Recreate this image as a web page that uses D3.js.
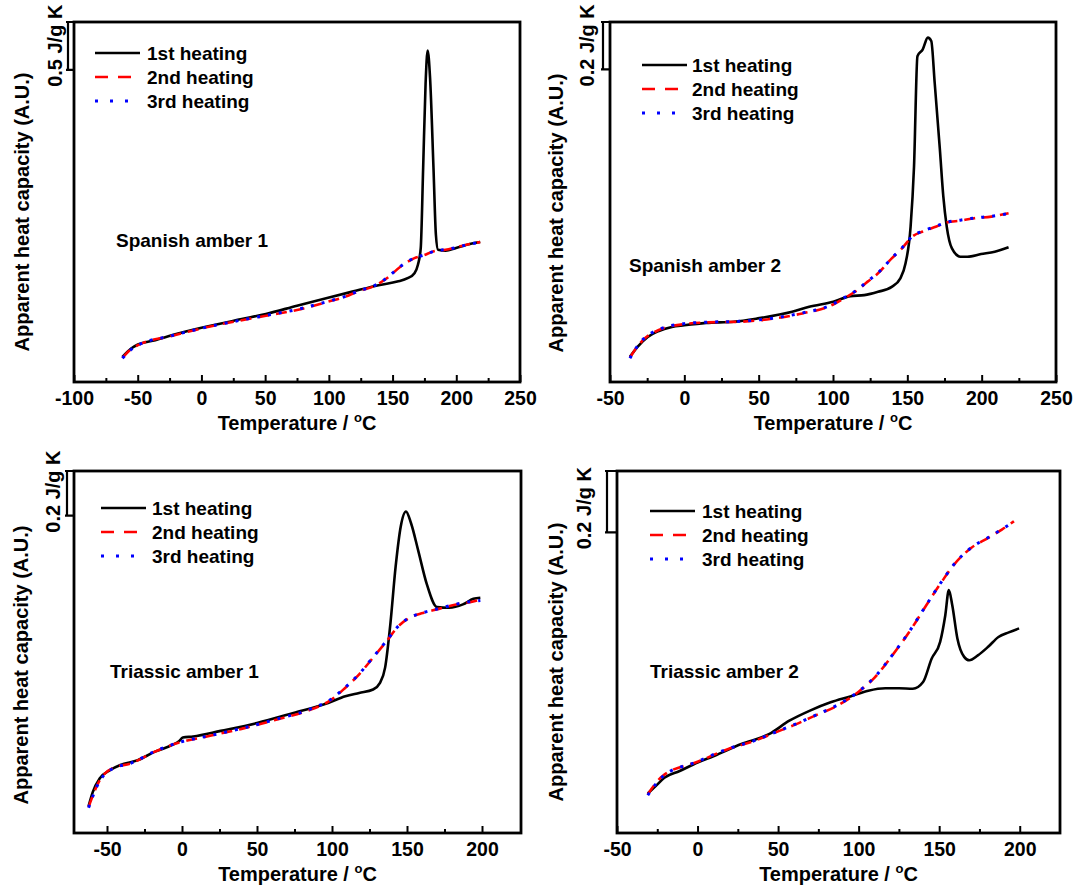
<!DOCTYPE html>
<html>
<head>
<meta charset="utf-8">
<script src="https://cdn.jsdelivr.net/npm/d3@7"></script>
<style>
  body { margin: 0; background: #fff; }
  text { font-family: "Liberation Sans", Arial, sans-serif; font-weight: bold; fill: #000; }
</style>
</head>
<body>
<div id="chart"></div>
<script>
// ---- data (temperature °C, apparent heat capacity in J/g K, offset to frame bottom) ----
const panelNames = ["Spanish amber 1", "Spanish amber 2", "Triassic amber 1", "Triassic amber 2"];
const seriesNames = ["1st heating", "2nd heating", "3rd heating"];
const scaleBarValues = [0.5, 0.2, 0.2, 0.2];
const scaleBarLabels = ["0.5 J/g K", "0.2 J/g K", "0.2 J/g K", "0.2 J/g K"];
const xDomains = [[-100, 250], [-50, 250], [-72, 226], [-50, 225]];
const yDomains = [[0, 3.76], [0, 1.517], [0, 1.62], [0, 1.18]];
const majorTicks = [
  [-100, -50, 0, 50, 100, 150, 200, 250],
  [-50, 0, 50, 100, 150, 200, 250],
  [-50, 0, 50, 100, 150, 200],
  [-50, 0, 50, 100, 150, 200]
];
const minorTicks = [
  [-75, -25, 25, 75, 125, 175, 225],
  [-25, 25, 75, 125, 175, 225],
  [-25, 25, 75, 125, 175],
  [-25, 25, 75, 125, 175]
];

const sa1Heat1 = [[-62,0.262],[-55.2,0.350],[-49.8,0.392],[-36.2,0.437],[-22.7,0.490],[0,0.566],[31.6,0.657],[50.6,0.710],[75,0.797],[99.4,0.881],[118.4,0.944],[140,1.014],[153.7,1.049],[161.8,1.084],[167.2,1.136],[169.9,1.224],[172.1,1.399],[174,2.238],[175.9,3.112],[177.5,3.462],[179.4,3.182],[182.1,2.238],[184,1.538],[185.7,1.381],[191.6,1.371],[199.8,1.399],[210.6,1.441],[218.8,1.462]];
const sa1Heat2 = [[-62,0.252],[-56,0.335],[-49.8,0.385],[-22.7,0.483],[0,0.559],[50.6,0.692],[75,0.752],[99.4,0.839],[113,0.892],[123.8,0.951],[134.7,0.997],[145.5,1.084],[156.4,1.206],[167.2,1.294],[174,1.322],[183.8,1.371],[191.6,1.381],[199.8,1.406],[210.6,1.441],[218.8,1.462]];
const sa1Heat3 = [[-62,0.248],[-56,0.330],[-49.8,0.383],[-22.7,0.485],[0,0.561],[50.6,0.695],[75,0.758],[99.4,0.842],[113,0.895],[123.8,0.953],[134.7,1.000],[145.5,1.088],[156.4,1.210],[167.2,1.296],[174,1.324],[183.8,1.370],[191.6,1.383],[199.8,1.404],[210.6,1.440],[218.8,1.460]];

const sa2Heat1 = [[-36.6,0.106],[-31.5,0.148],[-24.6,0.190],[-17.6,0.214],[-8.4,0.232],[0,0.239],[14.7,0.249],[33.2,0.254],[49.4,0.268],[72.5,0.296],[84,0.317],[100.2,0.338],[111.8,0.362],[121,0.366],[130.3,0.380],[139.5,0.401],[145.3,0.437],[148.8,0.500],[152.2,0.655],[154.5,0.908],[156.8,1.373],[160.3,1.401],[163.8,1.451],[166.1,1.437],[168.4,1.261],[171.9,0.979],[174.2,0.782],[176.5,0.655],[180,0.563],[185.7,0.528],[190.4,0.528],[199.6,0.539],[208.8,0.549],[218.1,0.568]];
const sa2Heat2 = [[-36.6,0.103],[-31.5,0.150],[-26.9,0.182],[-17.6,0.218],[0,0.244],[14.7,0.251],[37.8,0.254],[60.9,0.268],[79.4,0.289],[97.9,0.320],[107.2,0.352],[116.4,0.387],[123.3,0.423],[130.3,0.458],[139.5,0.521],[146.4,0.563],[153.4,0.613],[160.3,0.634],[169.6,0.655],[176.5,0.672],[185.7,0.680],[195,0.690],[206.5,0.697],[218.1,0.711]];
const sa2Heat3 = [[-36.6,0.100],[-31.5,0.152],[-26.9,0.185],[-17.6,0.220],[0,0.246],[14.7,0.252],[37.8,0.256],[60.9,0.270],[79.4,0.291],[97.9,0.322],[107.2,0.354],[116.4,0.389],[123.3,0.425],[130.3,0.460],[139.5,0.522],[146.4,0.565],[153.4,0.614],[160.3,0.636],[169.6,0.657],[176.5,0.673],[185.7,0.682],[195,0.691],[206.5,0.698],[218.1,0.710]];

const ta1Heat1 = [[-62.3,0.120],[-59.5,0.183],[-54.9,0.244],[-48,0.281],[-41.1,0.304],[-29.5,0.326],[-18,0.364],[-6.5,0.394],[-1.8,0.412],[0.5,0.427],[7.4,0.432],[25.8,0.457],[50,0.492],[74.3,0.537],[97.4,0.582],[108.9,0.612],[118.1,0.627],[127.4,0.642],[132,0.672],[135.4,0.740],[138.9,0.935],[142.4,1.191],[145.8,1.371],[149.3,1.439],[152.7,1.386],[157.4,1.266],[163.1,1.116],[170,1.011],[178.1,1.008],[187.3,1.023],[194.3,1.048],[198.9,1.053]];
const ta1Heat2 = [[-62.3,0.116],[-54.9,0.236],[-45.7,0.292],[-34.2,0.311],[-18,0.364],[-1.8,0.405],[16.6,0.432],[39.7,0.466],[62.8,0.507],[85.8,0.552],[99.7,0.597],[108.9,0.650],[118.1,0.710],[127.4,0.785],[136.6,0.860],[143.5,0.920],[150.4,0.958],[159.7,0.983],[171.2,1.003],[182.7,1.023],[192,1.033],[198.9,1.044]];
const ta1Heat3 = [[-62.3,0.113],[-54.9,0.232],[-45.7,0.290],[-34.2,0.312],[-18,0.366],[-1.8,0.406],[16.6,0.433],[39.7,0.468],[62.8,0.509],[85.8,0.555],[99.7,0.600],[108.9,0.652],[118.1,0.712],[127.4,0.787],[136.6,0.862],[143.5,0.921],[150.4,0.959],[159.7,0.984],[171.2,1.004],[182.7,1.024],[192,1.035],[198.9,1.040]];

const ta2Heat1 = [[-30.9,0.129],[-26,0.153],[-20.6,0.180],[-11.1,0.202],[0,0.230],[10.2,0.251],[27.2,0.290],[44.3,0.322],[57,0.366],[69.8,0.399],[82.6,0.426],[95.3,0.446],[106,0.464],[116.6,0.472],[125.1,0.472],[133.6,0.470],[140,0.492],[145.3,0.568],[150.6,0.623],[153.8,0.710],[156,0.792],[158.1,0.743],[161.3,0.634],[165.5,0.574],[168.7,0.563],[174,0.579],[180.4,0.607],[186.8,0.639],[193.2,0.654],[199.6,0.667]];
const ta2Heat2 = [[-30.9,0.126],[-21.7,0.186],[0,0.232],[18.7,0.273],[35.7,0.301],[48.5,0.328],[61.3,0.355],[74,0.385],[86.8,0.415],[99.6,0.459],[110.2,0.508],[120.9,0.579],[131.5,0.656],[142.1,0.743],[151.7,0.820],[159.1,0.874],[169.8,0.929],[180.4,0.962],[188.9,0.989],[196.4,1.016]];
const ta2Heat3 = [[-30.9,0.123],[-21.7,0.184],[0,0.233],[18.7,0.274],[35.7,0.302],[48.5,0.329],[61.3,0.356],[74,0.386],[86.8,0.417],[99.6,0.460],[110.2,0.510],[120.9,0.580],[131.5,0.657],[142.1,0.744],[151.7,0.821],[159.1,0.875],[169.8,0.930],[180.4,0.963],[188.9,0.990],[196.4,1.015]];

const panelSeries = [
  [sa1Heat1, sa1Heat2, sa1Heat3],
  [sa2Heat1, sa2Heat2, sa2Heat3],
  [ta1Heat1, ta1Heat2, ta1Heat3],
  [ta2Heat1, ta2Heat2, ta2Heat3]
];

// ---- layout ----
const W = 1073, H = 888;
const frames = [
  { x0: 74, x1: 520, y0: 22, y1: 382 },
  { x0: 610, x1: 1056, y0: 22, y1: 382 },
  { x0: 74, x1: 521, y0: 471, y1: 833 },
  { x0: 617, x1: 1060, y0: 471, y1: 833 }
];
// legend: line start, text x, first row y (absolute)
const legends = [
  { x: 95, tx: 147, y: 53 },
  { x: 642, tx: 692, y: 65 },
  { x: 101, tx: 152, y: 508 },
  { x: 650, tx: 702, y: 511 }
];
const labelPos = [
  { x: 116, y: 240 },
  { x: 629, y: 265 },
  { x: 110, y: 671 },
  { x: 650, y: 671 }
];
const yTitlePos = [
  { x: 22, y: 212 },
  { x: 556, y: 213 },
  { x: 21, y: 665 },
  { x: 556, y: 662 }
];
const barX = [68, 603, 67, 607];
const scaleLabelX = [55, 587, 53, 584];

const seriesStyle = [
  { color: "#000000", width: 2.6, dash: null, legendDash: null },
  { color: "#ff0000", width: 2.6, dash: "11,7", legendDash: "13,10" },
  { color: "#0000ff", width: 3, dash: "3,8", legendDash: "3,12" }
];

const svg = d3.select("#chart").append("svg").attr("width", W).attr("height", H);

function drawPanel(i) {
  const f = frames[i];
  const g = svg.append("g");

  const x = d3.scaleLinear().domain(xDomains[i]).range([f.x0, f.x1]);
  const y = d3.scaleLinear().domain(yDomains[i]).range([f.y1, f.y0]);

  // axes with inward ticks
  const axisG = g.append("g").attr("transform", `translate(0,${f.y1})`);
  axisG.call(d3.axisBottom(x).tickValues(majorTicks[i]).tickSizeInner(-7).tickSizeOuter(0).tickPadding(9).tickFormat((d) => String(d)));
  axisG.select(".domain").remove();
  axisG.selectAll("line").attr("stroke", "#000").attr("stroke-width", 2);
  axisG.selectAll("text")
    .style("font-family", '"Liberation Sans", Arial, sans-serif')
    .style("font-weight", "bold")
    .style("font-size", "19.5px")
    .attr("fill", "#000");

  const minorG = g.append("g").attr("transform", `translate(0,${f.y1})`);
  minorG.call(d3.axisBottom(x).tickValues(minorTicks[i]).tickSizeInner(-4).tickSizeOuter(0).tickFormat(""));
  minorG.select(".domain").remove();
  minorG.selectAll("line").attr("stroke", "#000").attr("stroke-width", 2);

  // curves
  const line = d3.line()
    .x((d) => x(d[0]))
    .y((d) => y(d[1]))
    .curve(d3.curveMonotoneX);

  panelSeries[i].forEach((data, k) => {
    const s = seriesStyle[k];
    g.append("path")
      .datum(data)
      .attr("d", line)
      .attr("fill", "none")
      .attr("stroke", s.color)
      .attr("stroke-width", s.width)
      .attr("stroke-dasharray", s.dash)
      .attr("stroke-linejoin", "round");
  });

  // frame
  g.append("rect")
    .attr("x", f.x0).attr("y", f.y0)
    .attr("width", f.x1 - f.x0).attr("height", f.y1 - f.y0)
    .attr("fill", "none").attr("stroke", "#000").attr("stroke-width", 2.8);

  // scale bar
  const yTop = y(yDomains[i][1]);
  const yBot = y(yDomains[i][1] - scaleBarValues[i]);
  const bx = barX[i];
  g.append("path")
    .attr("d", `M${bx - 2},${yTop}H${f.x0}M${bx},${yTop}V${yBot}M${bx - 2},${yBot}H${f.x0}`)
    .attr("fill", "none").attr("stroke", "#000").attr("stroke-width", 2.2);
  g.append("text")
    .attr("transform", `translate(${scaleLabelX[i]},${yBot + 17}) rotate(-90)`)
    .attr("text-anchor", "start")
    .attr("dominant-baseline", "central")
    .style("font-size", "20px")
    .text(scaleBarLabels[i]);

  // y title
  g.append("text")
    .attr("transform", `translate(${yTitlePos[i].x},${yTitlePos[i].y}) rotate(-90)`)
    .attr("text-anchor", "middle")
    .attr("dominant-baseline", "central")
    .style("font-size", "20px")
    .text("Apparent heat capacity (A.U.)");

  // x title
  const xt = g.append("text")
    .attr("x", (f.x0 + f.x1) / 2)
    .attr("y", f.y1 + 48)
    .attr("text-anchor", "middle")
    .style("font-size", "20px");
  xt.append("tspan").text("Temperature / ");
  xt.append("tspan").attr("font-size", "13px").attr("dy", -8).text("o");
  xt.append("tspan").attr("dy", 8).text("C");

  // legend
  const L = legends[i];
  seriesNames.forEach((name, k) => {
    const s = seriesStyle[k];
    const ly = L.y + k * 24;
    g.append("line")
      .attr("x1", L.x).attr("x2", L.x + 45)
      .attr("y1", ly).attr("y2", ly)
      .attr("stroke", s.color)
      .attr("stroke-width", s.width)
      .attr("stroke-dasharray", s.legendDash);
    g.append("text")
      .attr("x", L.tx).attr("y", ly)
      .attr("dominant-baseline", "central")
      .style("font-size", "19px")
      .text(name);
  });

  // sample label
  g.append("text")
    .attr("x", labelPos[i].x).attr("y", labelPos[i].y)
    .attr("dominant-baseline", "central")
    .style("font-size", "19px")
    .text(panelNames[i]);
}

[0, 1, 2, 3].forEach(drawPanel);
</script>
</body>
</html>
